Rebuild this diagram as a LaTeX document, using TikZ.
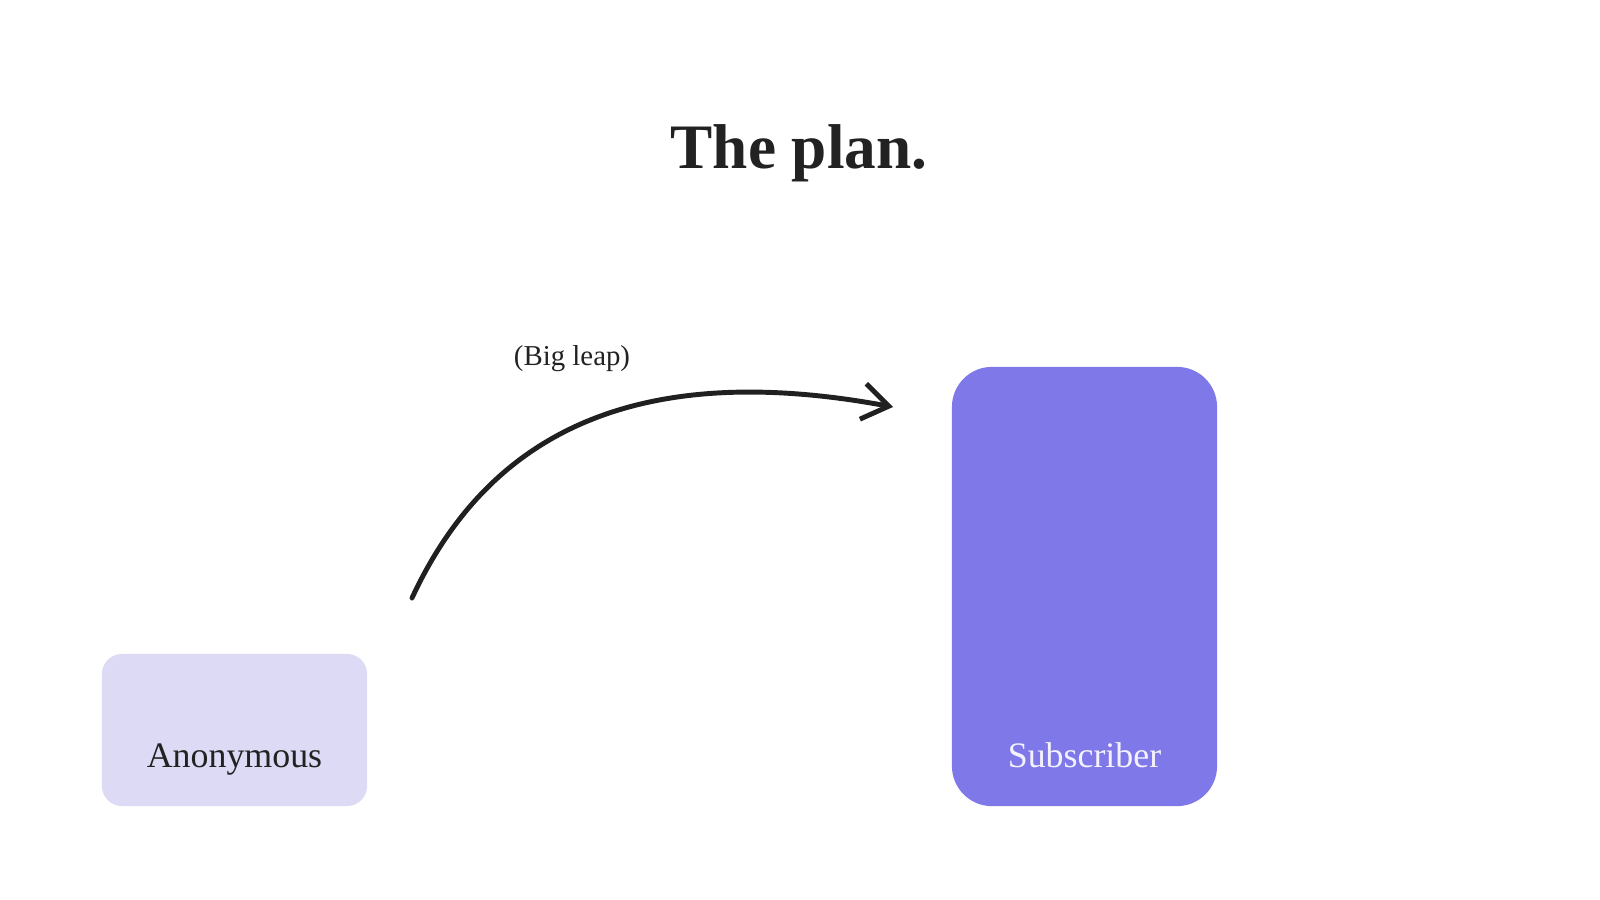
\documentclass[tikz,border=0pt]{standalone}
\usepackage{fontspec}
\setmainfont{Liberation Serif}
\usetikzlibrary{arrows.meta}
\definecolor{anonfill}{HTML}{DDDAF6}
\definecolor{subfill}{HTML}{7E78E8}
\definecolor{subtext}{HTML}{F4F2FF}
\definecolor{ink}{HTML}{222222}
\tikzset{
  boxbase/.style={inner sep=0pt, outer sep=0pt, draw=none},
  anonbox/.style={boxbase, fill=anonfill, minimum width=2.65cm, minimum height=1.52cm, rounded corners=0.2cm},
  subbox/.style={boxbase, fill=subfill, minimum width=2.65cm, minimum height=4.39cm, rounded corners=0.4cm},
  boxlabel/.style={anchor=base, inner sep=0pt, font=\fontsize{10.2pt}{12pt}\selectfont},
  leap/.style={draw=ink!95!black, line width=1.4pt, line cap=round, line join=round,
    -{Straight Barb[length=2.6mm, width=3.6mm, line width=1.4pt]}}
}
\begin{document}
\begin{tikzpicture}[x=0.01cm, y=-0.01cm]
  \useasboundingbox (0,0) rectangle (1600,900);
  \node[anchor=base, inner sep=0pt, text=ink, font=\fontsize{18pt}{22pt}\selectfont\bfseries] (title) at (799,168) {The plan.};
  \node[anonbox] (anon) at (234.5,730) {};
  \node[subbox] (sub) at (1084.5,586.5) {};
  \node[boxlabel, text=ink] (anonlbl) at (234.5,767) {Anonymous};
  \node[boxlabel, text=subtext] (sublbl) at (1084.5,767) {Subscriber};
  \node[anchor=base, inner sep=0pt, text=ink, font=\fontsize{8.2pt}{10pt}\selectfont] (leaplbl) at (572,365) {(Big leap)};
  \coordinate (astart) at (412,598);
  \coordinate (aend) at (893,407);
  \draw[leap] (astart) .. controls (490,430) and (640,360) .. (aend);
\end{tikzpicture}
\end{document}
